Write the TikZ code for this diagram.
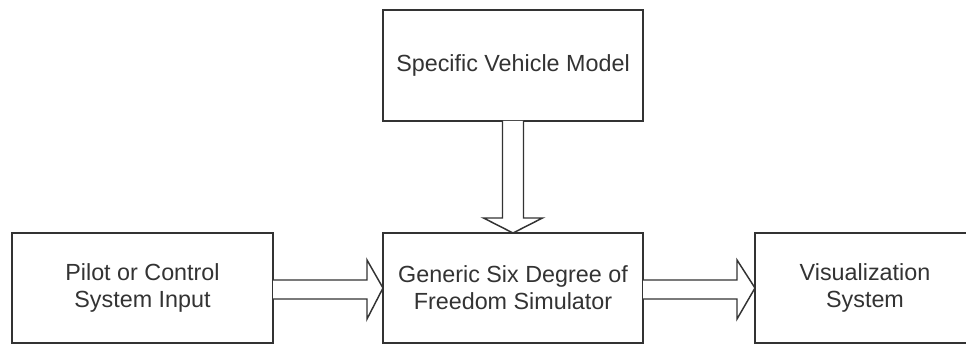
\documentclass[tikz,border=0pt]{standalone}
\usepackage{fontspec}
\setmainfont{Liberation Sans}
\usetikzlibrary{calc}
\definecolor{ink}{HTML}{333333}
\begin{document}
\begin{tikzpicture}[x=0.75pt,y=-0.75pt,
  blockbox/.style={draw=ink,line width=1.1pt,fill=white,inner sep=0pt,outer sep=0pt,
    minimum width=195pt,minimum height=82.5pt,align=center,text=ink,
    font=\fontsize{17.5pt}{20.3pt}\selectfont},
  blockarrow/.style={draw=ink,line width=1.1pt,fill=white,line join=miter}]
\useasboundingbox (0,0) rectangle (966,345);
\clip (0,0) rectangle (966,345);
\fill[white] (0,0) rectangle (966,345);
\node[blockbox,minimum height=83.25pt] (veh) at (513,65.5) {Specific Vehicle Model};
\node[blockbox,minimum width=195.75pt] (pilot) at (142.5,288) {Pilot or Control\\System Input};
\node[blockbox] (sim) at (513,288) {Generic Six Degree of\\Freedom Simulator};
\node[blockbox,minimum width=165pt] (vis) at (865,288) {Visualization\\System};
% down arrow
\draw[blockarrow] ($(veh.south)+(-10.5,0)$) -- ($(sim.north)+(-10.5,-15)$) -- ($(sim.north)+(-29.5,-15)$)
  -- (sim.north) -- ($(sim.north)+(29.5,-15)$) -- ($(sim.north)+(10.5,-15)$) -- ($(veh.south)+(10.5,0)$);
% right arrows
\draw[blockarrow] ($(pilot.east)+(0,-8)$) -- ($(sim.west)+(-16,-8)$) -- ($(sim.west)+(-16,-28)$)
  -- (sim.west) -- ($(sim.west)+(-16,31)$) -- ($(sim.west)+(-16,11)$) -- ($(pilot.east)+(0,11)$);
\draw[blockarrow] ($(sim.east)+(0,-8)$) -- ($(vis.west)+(-18,-8)$) -- ($(vis.west)+(-18,-28)$)
  -- (vis.west) -- ($(vis.west)+(-18,31)$) -- ($(vis.west)+(-18,11)$) -- ($(sim.east)+(0,11)$);
\end{tikzpicture}
\end{document}
